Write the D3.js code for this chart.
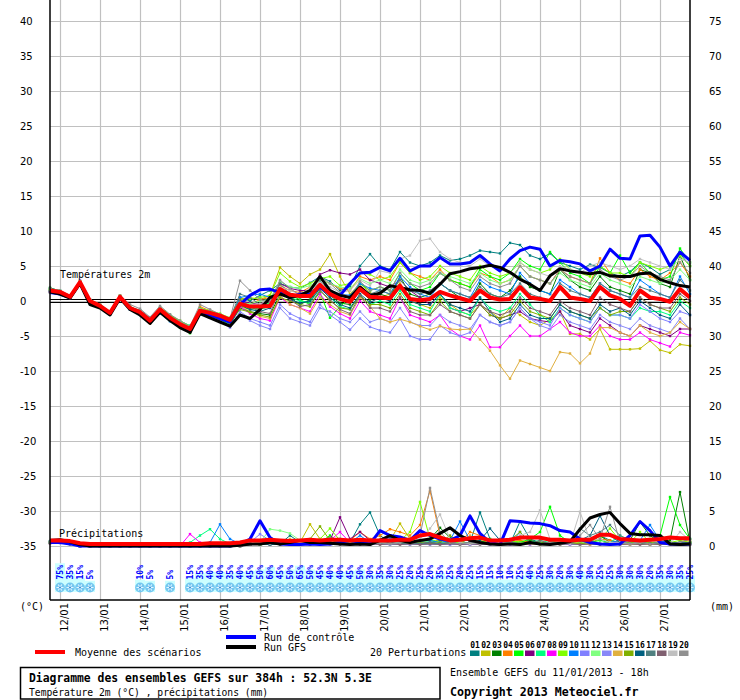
<!DOCTYPE html>
<html><head><meta charset="utf-8">
<script src="https://cdn.jsdelivr.net/npm/d3@7"></script>
<style>
body{margin:0;background:#fff;}
svg{display:block;}
text{font-family:"DejaVu Sans Mono",monospace;}
</style></head><body>
<svg id="c" width="740" height="700"></svg>
<script>
// ---------- DATA ----------
const dateLabels = ["12/01","13/01","14/01","15/01","16/01","17/01","18/01","19/01","20/01","21/01","22/01","23/01","24/01","25/01","26/01","27/01"];
const dateStep = [1,5,9,13,17,21,25,29,33,37,41,45,49,53,57,61];
const tempTicks = [40,35,30,25,20,15,10,5,0,-5,-10,-15,-20,-25,-30,-35];
const precipTicks = [75,70,65,60,55,50,45,40,35,30,25,20,15,10,5,0];
const snowPct = [null,75,35,15,5,null,null,null,null,10,5,null,5,null,15,35,40,40,35,40,45,50,60,45,50,65,50,45,40,40,45,50,30,35,30,25,20,25,20,35,25,20,25,15,15,10,10,25,40,25,30,20,30,40,30,25,25,30,30,30,20,35,30,35,25];
const pertNames = ["01","02","03","04","05","06","07","08","09","10","11","12","13","14","15","16","17","18","19","20"];
const pertColors = ["#008080","#c0c000","#008000","#ff8000","#00ff00","#800080","#00ff80","#ff00ff","#80ff00","#0080ff","#8080ff","#80ff80","#8888f8","#e0b040","#80b000","#006080","#508080","#806070","#c0c0c0","#909090"];

const meanTemp = [1.5,1.3,0.6,2.7,0.0,-0.7,-1.7,0.6,-1.0,-1.6,-2.8,-1.2,-2.4,-3.3,-4.0,-1.4,-1.7,-2.1,-2.7,-0.4,-0.8,-0.8,-0.7,1.7,0.9,0.7,0.7,2.3,1.0,0.3,-0.1,1.7,0.6,0.5,0.4,2.2,0.3,0.1,0.3,1.3,0.8,0.4,0.0,1.5,0.5,0.2,0.3,2.0,0.5,0.3,0.0,2.0,0.5,0.3,0.0,2.0,0.8,0.3,-0.7,1.5,0.5,0.3,-0.1,1.7,0.5];
const ctrlTemp = [1.2,1.0,0.5,2.6,-0.2,-0.8,-1.8,0.5,-1.0,-1.8,-3.0,-1.5,-2.6,-3.5,-4.2,-1.5,-2.0,-2.5,-3.0,
  -0.5,0.8,1.6,1.7,1.2,0.5,1.0,1.0,2.0,1.0,0.8,2.5,4.0,4.1,
  4.8,4.3,6.1,4.3,5.0,5.0,6.2,5.3,5.3,5.5,6.5,5.3,4.3,6.0,7.2,7.7,7.4,5.0,5.8,5.6,5.3,4.3,5.0,7.4,6.1,6.0,9.3,9.4,7.7,5.0,7.0,5.8];
const gfsTemp = [1.3,1.0,0.4,2.5,-0.5,-1.0,-2.0,0.4,-1.2,-2.0,-3.2,-1.6,-2.8,-3.8,-4.5,-1.8,-2.4,-3.0,-3.6,
  -2.0,-2.5,-1.2,0.5,1.0,0.5,0.8,1.5,3.5,1.5,0.8,0.5,2.0,0.8,
  1.1,2.2,1.9,1.6,1.5,1.1,2.4,3.9,4.2,4.6,4.8,5.1,4.8,4.1,3.1,2.4,1.5,3.6,4.6,4.3,4.1,3.9,4.1,3.6,3.5,3.5,3.9,4.0,3.1,2.6,2.2,2.0];

const pertTemp = [
 [1.8,1.5,0.7,2.6,0.2,-0.6,-1.5,0.7,-0.9,-1.4,-2.6,-1.0,-2.1,-3.0,-3.7,
  -1.2,-1.5,-2.0,-2.5,0.5,0.0,0.8,1.5,2.5,2.0,1.8,2.6,3.5,2.8,1.5,2.0,5.0,6.7,
  5.0,4.5,7.0,5.5,5.0,5.5,6.5,5.8,6.0,6.5,7.2,7.0,6.8,8.3,8.0,6.5,6.0,6.8,5.5,5.0,4.5,5.2,4.8,4.0,3.5,4.2,5.5,4.8,3.8,4.5,6.8,5.0],
 [1.2,1.1,0.5,2.8,-0.2,-0.9,-1.8,0.5,-1.1,-1.8,-3.0,-1.3,-2.5,-3.5,-4.3,
  -1.5,-1.9,-2.4,-3.0,0.3,0.5,0.2,0.8,4.8,3.5,2.5,3.8,4.5,6.7,3.5,1.0,2.5,1.2,
  0.5,1.0,2.5,0.0,-0.5,-1.0,0.5,-0.5,-1.5,-2.0,-0.5,-1.5,-2.5,-1.0,-2.0,-3.0,-3.5,-2.6,-1.5,-4.7,-4.7,-5.5,-4.0,-6.9,-6.9,-6.9,-6.8,-5.7,-7.0,-7.4,-6.2,-6.4],
 [1.9,1.4,0.6,2.5,-0.3,-0.8,-1.9,0.4,-1.2,-1.7,-3.1,-1.5,-2.7,-3.6,-4.5,
  -1.6,-2.0,-2.5,-3.3,-1.0,-1.5,-1.8,-2.0,1.0,0.5,-0.5,0.2,2.0,0.8,-0.3,-0.5,1.5,0.2,
  1.0,0.5,3.5,1.0,0.5,1.0,2.5,1.5,0.5,0.0,2.5,1.0,0.5,1.5,3.5,2.0,1.5,1.0,4.5,3.0,2.0,1.5,3.5,2.0,1.5,1.0,4.5,4.0,2.5,2.0,6.5,3.0],
 [1.4,1.2,0.8,2.7,0.1,-0.5,-1.6,0.8,-0.8,-1.5,-3.2,-1.1,-2.2,-3.1,-3.8,
  -0.8,-1.4,-2.0,-2.6,-0.2,-0.5,0.2,0.5,2.2,1.5,1.2,2.0,3.0,2.5,1.8,1.5,3.5,3.0,
  3.5,3.0,5.5,4.0,3.5,3.0,4.5,3.0,2.5,2.0,4.0,3.5,2.5,3.0,5.0,3.5,3.0,2.5,4.5,3.5,3.0,2.5,6.1,4.0,3.0,2.5,4.5,3.5,3.0,4.0,5.5,3.5],
 [1.6,1.3,0.5,2.6,-0.1,-0.7,-1.7,0.6,-1.1,-1.9,-2.9,-1.6,-2.8,-3.8,-4.6,
  -1.8,-2.2,-2.6,-3.5,-0.8,-1.2,-1.0,-0.2,2.0,0.8,0.2,-0.5,1.2,-2.4,-0.8,0.5,2.5,1.5,
  2.0,1.5,4.0,2.5,1.5,2.0,4.0,3.0,2.5,2.0,4.5,3.5,3.0,4.0,6.0,5.0,4.5,7.0,5.5,4.0,3.5,2.5,5.0,4.0,6.5,4.0,5.5,4.0,3.0,3.5,7.5,5.5],
 [1.3,1.2,0.6,2.9,0.0,-0.6,-1.6,0.7,-1.0,-1.5,-2.7,-1.2,-2.3,-3.2,-3.9,
  -1.3,-1.6,-2.0,-2.6,0.0,-0.3,-0.5,0.0,2.5,1.8,1.5,1.5,3.8,4.4,4.0,3.8,4.5,3.0,
  2.5,2.0,3.0,1.5,0.5,-0.5,1.0,-1.0,-1.5,-1.0,-0.5,-2.0,-2.5,-2.0,-1.5,-2.5,-2.8,-3.0,-1.5,-3.5,-4.0,-4.5,-2.5,-3.5,-4.5,-5.0,-3.5,-4.0,-4.5,-5.0,-4.0,-4.0],
 [1.7,1.4,0.7,2.6,0.1,-0.8,-1.8,0.5,-1.0,-1.6,-2.5,-1.0,-2.0,-2.9,-3.5,
  -1.4,-1.8,-2.3,-2.9,-0.5,-1.0,-1.2,-0.8,1.5,0.5,0.0,-0.2,1.8,0.5,-0.8,-1.2,0.8,-0.5,
  0.0,-0.5,1.5,-0.5,-1.0,-1.5,1.0,-1.0,-1.5,-2.0,0.5,-1.0,-1.5,-1.0,1.0,-0.5,-2.0,-3.0,-1.0,-2.0,-2.5,-3.0,-1.0,-2.0,-2.0,-2.5,-1.0,-1.5,-1.5,-2.0,0.0,-1.0],
 [1.5,1.3,0.6,2.7,-0.1,-0.7,-1.7,0.6,-1.1,-1.7,-2.8,-1.3,-2.4,-3.4,-4.1,
  -1.5,-1.9,-2.3,-2.8,-0.8,-1.8,-2.5,-2.8,0.5,-0.5,-1.0,-1.5,1.0,-0.8,-1.8,-2.5,0.0,-1.5,
  -2.0,-2.5,0.5,-2.0,-2.5,-3.0,-2.0,-4.0,-5.0,-5.5,-3.5,-6.6,-6.6,-5.0,-3.5,-5.0,-5.0,-4.0,-3.0,-4.5,-5.0,-5.0,-3.5,-5.0,-5.5,-5.5,-4.5,-5.5,-6.0,-6.5,-4.5,-4.9],
 [1.6,1.4,0.8,2.8,0.1,-0.6,-1.5,0.8,-0.8,-1.4,-2.6,-0.9,-2.0,-2.8,-3.6,
  -1.0,-1.4,-1.8,-2.4,0.2,0.3,0.5,0.8,4.0,2.8,2.0,2.5,3.2,3.5,2.2,2.5,4.0,3.8,
  3.0,3.5,5.5,4.0,3.0,3.5,5.0,4.0,3.5,3.0,5.0,4.0,3.5,4.0,5.5,4.5,4.0,4.5,6.0,4.5,4.0,3.5,5.0,4.0,4.0,3.5,5.5,5.0,4.5,5.0,6.5,5.0],
 [1.4,1.1,0.5,2.6,-0.1,-0.8,-1.8,0.6,-1.2,-2.0,-3.1,-1.8,-2.9,-3.7,-4.4,
  -1.7,-2.1,-2.6,-3.2,0.5,0.8,1.0,0.5,1.5,1.0,0.8,1.2,2.2,1.5,1.0,0.8,2.5,1.8,
  1.5,1.0,3.5,2.0,1.0,0.5,2.5,1.5,1.0,0.5,3.0,2.0,1.5,1.0,4.0,2.5,1.5,1.0,3.0,2.0,1.0,0.5,2.5,1.5,1.0,0.5,3.0,2.0,1.0,0.5,3.5,1.0],
 [1.3,1.2,0.4,2.5,0.0,-0.7,-1.6,0.5,-0.9,-1.6,-2.9,-1.4,-2.6,-3.5,-4.2,
  -1.8,-2.3,-2.8,-3.6,-1.5,-2.5,-3.0,-3.5,-0.5,-1.8,-2.5,-3.0,-0.5,-2.0,-3.0,-4.1,-2.5,-3.7,
  -4.2,-4.5,-2.5,-5.0,-5.5,-5.5,-3.5,-4.5,-5.0,-4.5,-2.0,-3.0,-3.5,-3.0,-1.0,-2.5,-3.0,-3.5,-1.0,-2.0,-2.5,-3.0,-1.0,-2.0,-2.0,-2.5,-0.5,-1.5,-2.5,-3.0,-1.5,-2.0],
 [1.7,1.5,0.7,2.7,0.2,-0.5,-1.5,0.7,-0.9,-1.5,-2.7,-1.1,-2.2,-3.0,-3.8,
  -1.2,-1.5,-1.9,-2.4,-0.2,-0.4,0.0,0.3,2.8,2.0,1.8,2.2,3.0,2.5,2.0,1.8,3.2,2.5,
  3.0,2.5,4.5,3.0,2.5,3.0,4.0,3.5,3.0,2.5,4.0,3.0,2.5,3.0,5.0,3.5,3.0,2.5,4.0,3.0,2.5,2.0,4.0,3.0,2.5,2.0,3.5,3.0,2.5,3.0,4.5,3.0],
 [1.2,1.0,0.5,2.6,-0.2,-0.8,-1.9,0.4,-1.2,-1.9,-3.0,-1.5,-2.7,-3.6,-4.3,
  -1.9,-2.4,-3.0,-3.8,-1.8,-2.8,-3.5,-4.0,-1.0,-2.5,-3.0,-3.5,-1.0,-1.5,-2.5,-3.0,-1.5,-3.0,
  -2.5,-3.0,-1.0,-3.0,-3.5,-3.5,-2.0,-3.0,-3.5,-4.0,-2.0,-3.0,-3.5,-3.0,-1.0,-2.5,-3.5,-4.0,-2.0,-3.0,-3.5,-4.0,-2.0,-3.0,-3.5,-4.0,-2.5,-3.5,-4.0,-4.5,-2.5,-4.0],
 [1.5,1.3,0.6,2.8,0.0,-0.6,-1.7,0.7,-1.0,-1.5,-3.0,-1.2,-2.3,-3.2,-4.0,
  -1.3,-1.8,-2.2,-2.8,-0.6,-1.5,-2.2,-2.5,0.8,-0.5,-1.0,-1.8,0.5,-0.5,-1.5,-2.0,0.5,-0.8,
  -2.5,-3.0,-2.6,-3.0,-3.6,-4.1,-3.6,-4.0,-4.1,-4.0,-5.5,-7.1,-9.2,-11.1,-8.5,-9.0,-9.5,-10.0,-7.3,-7.5,-8.9,-7.5,-3.8,-3.8,-4.5,-5.0,-3.5,-4.5,-5.0,-4.5,-3.0,-4.0],
 [1.6,1.3,0.6,2.7,-0.1,-0.7,-1.8,0.5,-1.1,-1.8,-2.8,-1.4,-2.5,-3.4,-4.2,
  -1.5,-1.9,-2.4,-3.1,-1.2,-1.6,-2.0,-2.3,0.5,0.0,-0.5,-0.8,1.5,0.0,-1.0,-1.2,0.8,-0.5,
  -0.5,-1.0,1.0,-1.0,-1.5,-2.0,0.0,-1.5,-2.0,-2.5,-0.5,-2.0,-2.5,-2.0,0.0,-1.5,-2.0,-2.5,-0.5,-1.5,-2.0,-2.5,-1.0,-2.0,-1.5,-1.5,0.5,-0.5,-1.0,-1.5,0.5,-0.5],
 [1.4,1.2,0.7,2.7,0.0,-0.6,-1.6,0.6,-1.0,-1.6,-2.7,-1.3,-2.4,-3.3,-4.1,
  -1.6,-2.0,-2.5,-3.0,-0.6,-1.2,-1.5,-1.0,1.2,0.2,-0.3,0.0,1.8,0.5,-0.5,-1.0,1.0,-0.2,
  0.5,0.0,2.0,0.0,-0.5,-0.5,1.0,-0.5,-1.0,-1.5,0.5,-1.5,-3.0,-2.5,-0.5,-2.0,-2.5,-2.5,-0.5,-1.5,-2.0,-2.5,-0.5,-1.5,-1.0,-2.0,0.0,-1.0,-2.0,-2.5,-0.5,-2.0],
 [1.5,1.4,0.6,2.6,0.1,-0.7,-1.7,0.6,-0.9,-1.3,-2.4,-1.0,-2.2,-3.1,-3.9,
  -1.1,-1.5,-2.0,-2.5,1.0,0.5,-0.5,-0.5,2.5,1.0,0.5,1.0,2.8,1.5,0.5,0.0,2.0,1.0,
  1.5,1.0,3.0,1.5,1.0,1.5,2.5,1.5,1.0,0.5,2.0,1.0,0.5,1.0,2.5,1.0,0.5,0.0,2.5,1.5,1.0,0.5,2.5,1.5,1.0,0.5,2.0,1.5,1.0,0.5,3.0,1.5],
 [1.3,1.1,0.5,2.7,-0.1,-0.8,-1.8,0.5,-1.1,-1.8,-2.9,-1.3,-2.5,-3.4,-4.4,
  -1.4,-1.8,-2.4,-3.1,0.2,-0.8,-1.5,-1.8,1.8,0.2,-0.8,-0.5,1.5,0.2,-1.2,-1.8,0.8,-1.0,
  -1.0,-1.5,0.5,-1.5,-2.0,-2.0,-0.5,-1.5,-2.0,-2.5,-0.5,-1.5,-2.0,-1.5,0.5,-1.0,-1.5,-2.0,0.0,-1.0,-1.5,-2.0,0.5,-0.5,-1.0,-1.5,0.5,-0.5,-1.0,-1.0,1.0,0.0],
 [1.6,1.4,0.7,2.8,0.1,-0.6,-1.6,0.7,-0.9,-1.5,-2.7,-1.1,-2.3,-3.2,-3.9,
  -1.2,-1.6,-2.1,-2.7,-0.3,-0.6,-0.4,0.2,2.0,1.5,1.0,1.8,2.6,2.0,1.2,1.5,3.0,2.2,
  4.3,4.0,6.0,6.5,8.6,8.9,7.0,6.0,5.5,5.0,6.0,5.0,4.5,4.0,5.5,4.5,4.0,3.5,5.0,4.5,4.0,5.0,5.5,5.0,4.5,5.0,6.0,5.5,5.0,4.5,6.0,5.5],
 [1.8,1.5,0.8,2.7,0.2,-0.5,-1.5,0.8,-0.5,-1.1,-2.3,-0.7,-1.9,-2.8,-3.6,
  -0.5,-1.2,-1.9,-2.5,2.9,1.5,0.2,-0.2,3.0,1.8,0.8,1.2,3.5,2.5,1.2,0.5,2.8,1.5,
  2.0,1.5,4.0,2.5,2.0,2.5,4.0,3.0,2.0,1.5,3.5,2.5,2.0,2.5,5.0,3.5,3.0,2.5,4.5,3.5,3.0,2.5,4.5,3.5,3.0,3.5,5.0,4.0,3.5,3.0,5.5,4.0]
];

const meanPrecip = [0.8,0.8,0.7,0.4,0.3, 0.3,0.3,0.3,0.3,0.3, 0.3,0.3,0.3,0.3,0.3, 0.3,0.4,0.4,0.4,0.5, 0.8,0.8,0.9,0.8,0.7, 0.8,0.9,0.8,0.9,0.9, 0.8,0.9,0.8,0.8,0.8, 0.9,0.9,1.5,1.7,1.2, 0.8,0.9,1.1,1.2,0.8, 0.8,0.9,1.2,1.2,1.2, 0.9,0.9,0.8,0.9,0.9, 1.6,1.6,1.0,0.9,0.8, 0.9,1.0,1.2,1.1,1.1];
const ctrlPrecip = [0.5,0.5,0.3,0,0, 0,0,0,0,0, 0,0,0,0,0, 0,0,0,0,0.2, 1.0,3.6,1.2,0.3,0.2, 0.2,0.3,0.2,0.3,0.5, 0.8,0.5,0.3,2.2,1.5, 1.3,0.8,2.2,1.5,1.0, 0.8,1.5,4.3,1.8,0.5, 0.2,3.6,3.5,3.3,3.2, 2.9,2.2,2.0,1.0,0.5, 0.3,0.2,0.3,1.5,3.5, 2.2,0.5,0.3,0.2,0.3];
const gfsPrecip = [0.8,0.9,0.6,0.2,0, 0,0,0,0,0, 0,0,0,0,0, 0,0,0,0,0.1, 0.3,0.3,0.5,0.3,0.5, 0.8,0.5,0.5,0.4,0.3, 0.2,0.3,0.2,0.8,1.5, 0.8,0.5,0.8,1.0,1.8, 2.6,1.5,0.8,0.5,0.3, 0.2,0.3,0.2,0.5,0.3, 0.2,0.4,0.6,2.4,4.0, 4.5,4.8,3.2,1.8,1.6, 1.6,1.5,0.3,0.2,0.3];
const pertPrecip = [
 [0.6,0.5,0.3,0,0, 0,0,0,0,0, 0,0,0,0,0, 0,0.2,0.3,0.2,0, 0.2,0.3,0.5,0.3,1.5, 0.5,0.3,0.5,0.3,1.0, 0.5,3.1,4.8,1.5,0.5, 0.8,0.5,0.3,0.5,0.8, 0.5,0.3,0.5,4.8,1.0, 0.5,0.3,3.5,1.0,0.5, 0.3,0.5,0.3,0.5,0.8, 1.5,0.8,0.5,0.3,0.5, 0.3,0.5,0.3,0.5,1.0],
 [0.4,0.5,0.3,0,0, 0,0,0,0,0, 0,0,0,0,0, 0,0,0.2,0,0, 0.3,0.2,0.3,0.5,0.8, 0.5,3.1,1.0,0.5,0.3, 0.5,0.8,0.5,0.3,0.8, 3.2,1.0,0.5,0.3,1.0, 0.5,0.3,0.5,0.8,0.5, 0.3,0.5,0.8,0.5,0.3, 0.5,0.3,0.5,1.0,0.5, 1.5,0.5,0.3,0.5,0.3, 0.5,0.3,0.5,0.3,0.5],
 [0.7,0.6,0.4,0,0, 0,0,0,0,0, 0,0,0,0,0, 0,0,0,0.2,0.3, 0.2,0.3,0.2,0.3,0.5, 0.3,0.5,0.8,1.2,0.5, 0.3,0.5,0.3,0.8,0.5, 0.3,0.5,0.8,1.0,2.6, 1.2,0.5,1.0,0.5,0.3, 0.5,0.3,0.5,0.8,0.5, 0.5,0.3,0.5,0.3,0.5, 1.5,0.5,0.3,0.8,3.4, 1.5,0.5,0.8,7.7,0.5],
 [0.5,0.6,0.3,0,0, 0,0,0,0,0, 0,0,0,0,0, 0,0,0.2,0.3,0.2, 0.3,0.2,0.5,0.8,0.5, 0.5,0.3,0.8,0.5,0.5, 0.8,2.0,1.0,1.5,2.4, 2.0,1.5,3.0,7.9,1.5, 0.8,0.5,2.0,1.5,0.5, 0.3,0.5,0.8,0.5,0.3, 0.5,0.8,0.5,0.3,0.5, 1.0,0.8,0.5,1.0,0.5, 0.8,0.5,0.3,0.5,0.8],
 [0.5,0.6,0.4,0,0, 0,0,0,0,0, 0,0,0,0,0, 0,0.3,0.2,0,0.2, 0.3,0.2,0.3,0.5,0.3, 0.5,0.3,0.5,1.5,0.5, 0.3,0.5,0.8,0.5,0.3, 0.5,0.3,0.5,0.8,0.5, 0.3,0.5,0.3,0.5,1.0, 0.5,0.8,0.5,1.0,2.0, 5.6,1.5,0.5,0.3,0.5, 0.8,0.5,0.3,0.5,0.8, 1.0,1.5,7.0,3.0,1.0],
 [0.6,0.5,0.3,0,0, 0,0,0,0,0, 0,0,0,0,0, 0,0,0,0,0, 0.2,0.3,0.2,0.3,0.5, 0.3,0.5,0.3,0.8,4.1, 1.0,2.0,0.8,0.5,0.3, 0.5,0.8,0.3,0.5,0.3, 0.5,0.3,0.5,0.3,0.5, 0.3,0.5,0.3,0.5,0.3, 0.5,0.3,0.5,0.3,0.5, 0.3,0.5,0.3,0.5,0.3, 0.5,0.3,0.5,0.3,0.5],
 [0.5,0.5,0.4,0,0, 0,0,0,0,0, 0,0,0,0,0.5, 1.5,2.4,1.0,0.3,0.2, 0.3,0.2,0.3,0.5,0.3, 0.5,0.3,0.5,0.3,0.5, 0.3,0.5,0.3,0.5,0.3, 0.5,0.3,0.8,0.5,0.3, 0.5,0.3,0.5,0.3,0.5, 0.3,0.5,0.3,0.5,0.8, 0.5,1.0,0.5,0.3,0.5, 0.3,0.5,1.5,0.8,0.5, 0.3,0.5,0.3,0.5,0.3],
 [0.4,0.5,0.3,0,0, 0,0,0,0,0, 0,0,0,0,1.7, 0.5,0.2,0,0,0, 0.2,0.3,0.2,0.3,0.2, 0.3,0.5,0.3,0.8,2.0, 0.5,0.3,0.5,0.3,0.5, 0.3,0.5,0.3,0.5,0.3, 0.5,0.3,0.2,0.3,0.2, 0.3,0.2,0.3,0.2,0.3, 0.2,0.3,0.2,0.3,0.2, 0.3,0.2,0.3,0.2,0.3, 0.2,0.3,0.2,0.3,0.2],
 [0.5,0.6,0.3,0,0, 0,0,0,0,0, 0,0,0,0,0, 0,0,0.2,0.3,0.2, 0.3,0.5,0.3,0.5,0.3, 0.5,0.8,1.0,2.5,0.8, 0.5,0.3,0.5,0.3,0.5, 0.8,2.0,6.3,1.0,0.5, 0.3,0.5,0.3,0.5,0.3, 0.5,0.8,0.5,0.3,0.5, 0.3,0.5,0.3,0.5,0.8, 1.0,2.5,0.8,0.5,2.0, 0.5,0.3,0.5,0.8,0.5],
 [0.6,0.5,0.3,0,0, 0,0,0,0,0, 0,0,0,0,0, 0,0.5,3.1,1.0,0.3, 0.2,0.3,0.2,0.3,0.5, 0.3,0.5,0.3,0.5,0.3, 0.5,1.5,0.5,0.8,1.2, 0.5,0.3,0.5,0.8,0.5, 0.8,3.5,0.8,0.5,0.3, 0.5,0.3,2.0,0.5,0.3, 0.5,0.3,0.5,0.8,0.5, 0.3,0.5,0.8,0.5,0.8, 3.0,0.8,0.5,0.3,0.5],
 [0.5,0.4,0.3,0,0, 0,0,0,0,0, 0,0,0,0,0, 0,0,0,0,0.3, 0.5,1.7,0.8,0.3,0.2, 0.3,0.2,0.3,0.2,0.3, 0.5,0.3,0.2,0.3,0.2, 0.3,0.2,0.3,0.2,0.3, 0.2,0.3,0.2,0.3,0.2, 0.3,0.2,0.3,0.2,0.3, 0.2,0.3,0.2,0.3,0.2, 0.3,0.2,0.3,0.2,0.3, 0.2,0.3,0.2,0.3,0.2],
 [0.5,0.6,0.4,0,0, 0,0,0,0,0, 0,0,0,0,0, 0,0,0,0,0.2, 0.3,0.5,2.4,2.2,1.8, 0.8,0.5,0.3,0.5,0.3, 0.5,0.3,0.5,0.3,0.5, 0.3,0.5,0.8,0.5,0.3, 0.5,0.3,0.5,0.3,0.5, 0.3,0.5,0.3,0.5,0.3, 0.5,0.3,0.5,0.3,0.5, 0.3,0.5,0.3,0.5,0.3, 0.5,0.3,0.5,0.3,0.5],
 [0.4,0.5,0.3,0,0, 0,0,0,0,0, 0,0,0,0,0, 0,0,0,0,0, 0.2,0.3,0.2,0.3,0.2, 0.3,0.2,0.3,0.2,0.3, 0.2,0.3,0.2,0.3,0.2, 0.3,0.2,0.3,0.2,0.3, 0.2,0.3,0.2,0.3,0.2, 0.5,0.3,0.2,0.3,0.2, 0.3,0.2,0.3,0.2,0.3, 0.2,0.3,0.2,0.8,0.3, 0.2,0.3,0.2,0.3,0.2],
 [0.5,0.5,0.3,0,0, 0,0,0,0,0, 0,0,0,0,0, 0,0,0,0,0, 0.2,0.3,0.2,0.5,1.0, 0.5,0.3,0.5,0.3,0.5, 0.3,0.5,0.3,1.0,0.5, 0.3,0.5,0.3,0.5,0.3, 0.5,0.3,1.5,0.5,0.3, 0.2,0.3,0.2,0.3,0.2, 0.3,0.2,0.8,0.3,0.2, 0.3,0.2,0.3,0.2,0.3, 0.2,0.3,0.2,0.3,0.2],
 [0.5,0.6,0.4,0,0, 0,0,0,0,0, 0,0,0,0,0, 0,0,0,0,0, 0.3,0.2,0.3,0.2,0.5, 0.8,1.0,2.8,0.8,0.5, 0.3,0.5,0.3,0.5,0.3, 0.5,0.3,0.5,0.3,0.5, 1.5,0.5,0.3,0.5,0.3, 0.5,0.8,2.0,0.5,0.3, 0.5,0.3,0.5,0.3,0.5, 0.3,0.5,0.3,0.5,0.3, 0.5,0.3,0.5,0.3,0.5],
 [0.5,0.5,0.3,0,0, 0,0,0,0,0, 0,0,0,0,0, 0,0,0,0,0, 0.2,0.3,0.2,0.3,0.2, 0.3,0.5,0.3,0.5,0.3, 0.5,0.3,0.5,0.3,0.5, 0.3,0.5,0.3,0.5,0.3, 0.5,0.3,0.5,0.8,2.5, 0.8,0.5,0.3,0.5,0.3, 0.5,0.3,0.5,0.8,1.5, 4.3,1.5,0.5,0.3,0.5, 0.3,0.5,0.3,0.5,0.3],
 [0.5,0.5,0.4,0,0, 0,0,0,0,0, 0,0,0,0,0, 0,0,0,0,0, 0.3,0.2,0.5,0.8,0.5, 0.3,0.5,0.8,0.5,0.3, 0.5,0.3,0.5,0.3,0.5, 0.3,0.5,0.3,0.5,0.3, 0.5,0.3,0.5,0.3,0.5, 0.3,0.5,0.3,0.5,0.3, 0.5,0.3,0.5,2.5,1.5, 2.0,3.0,1.5,0.8,0.5, 0.3,0.5,0.3,0.5,0.3],
 [0.4,0.5,0.3,0,0, 0,0,0,0,0, 0,0,0,0,0, 0,0,0,0,0, 0.2,0.3,0.5,0.3,0.2, 0.3,0.2,0.5,0.3,0.2, 0.3,0.2,0.3,0.2,0.3, 0.2,0.3,0.2,0.3,0.2, 0.3,0.2,0.3,0.2,0.3, 1.0,0.3,0.2,0.3,0.8, 0.3,0.2,0.3,0.2,0.3, 0.2,0.3,0.2,0.3,0.2, 0.3,0.2,0.3,0.2,0.3],
 [0.6,0.6,0.4,0,0, 0,0,0,0,0, 0,0,0,0,0, 0,0,0,0,0, 0.3,0.5,0.3,0.5,0.3, 0.5,0.3,0.5,0.3,0.5, 0.3,0.5,0.3,0.5,0.3, 0.5,0.8,1.0,2.5,4.5, 1.0,0.5,0.3,0.5,0.3, 0.5,0.8,1.5,2.0,5.1, 1.0,0.5,0.3,4.9,0.8, 1.0,0.5,0.5,0.3,0.5, 0.8,0.5,0.3,2.0,0.8],
 [0.5,0.6,0.3,0,0, 0,0,0,0,0, 0,0,0,0,0, 0.3,0.2,0,0,0, 0.2,0.3,0.5,0.3,0.5, 0.3,0.5,0.3,1.2,0.5, 0.3,0.5,0.3,0.5,0.3, 0.5,0.8,1.5,8.3,2.0, 0.5,0.3,0.5,0.3,0.5, 0.3,0.5,0.3,0.5,0.3, 0.5,0.3,0.5,1.5,3.0, 1.0,5.6,0.5,0.3,0.5, 0.3,0.5,0.3,0.5,1.0]
];

// ---------- DRAW ----------
const svg = d3.select("#c");
const L = 50, R = 690, T = 0, B = 600;
const x = d3.scaleLinear().domain([0, 64]).range([L, R]);
const yT = d3.scaleLinear().domain([-35, 40]).range([546, 21]);
const yP = d3.scaleLinear().domain([0, 75]).range([546, 21]);
const idx = d3.range(65);

// horizontal grid + left labels
const gLeft = svg.append("g").attr("transform", `translate(${L},0)`)
  .call(d3.axisLeft(yT).tickValues(tempTicks).tickSize(-(R - L)).tickFormat(d => d));
gLeft.select(".domain").remove();
gLeft.selectAll(".tick line").attr("stroke", "#c0c0c0").attr("stroke-width", 1.2);
gLeft.selectAll(".tick text").attr("x", -30).attr("dy", "0.38em").attr("text-anchor", "start")
  .style("font-family", "'DejaVu Sans',sans-serif").style("font-size", "10px").attr("fill", "#000");

// vertical grid (days)
const gDays = svg.append("g").attr("transform", `translate(0,${B})`)
  .call(d3.axisBottom(x).tickValues(dateStep).tickSize(-(B - T)).tickFormat((d, i) => dateLabels[i]));
gDays.select(".domain").remove();
gDays.selectAll(".tick line").attr("stroke", "#c0c0c0").attr("stroke-width", 1.2);
gDays.selectAll(".tick text")
  .attr("transform", "rotate(-90)").attr("x", -3).attr("y", 7).attr("dy", "0").attr("text-anchor", "end")
  .style("font-family", "'DejaVu Sans',sans-serif").style("font-size", "10px").attr("fill", "#000");

// right axis labels
svg.append("g").selectAll("text").data(precipTicks).join("text")
  .attr("x", 709).attr("y", d => yP(d)).attr("dy", "0.38em")
  .style("font-family", "'DejaVu Sans',sans-serif").style("font-size", "10px").text(d => d);

// snow probability: cyan bars, icons, labels
const snowIdx = idx.filter(i => snowPct[i] != null);
svg.append("g").selectAll("rect").data(snowIdx).join("rect")
  .attr("x", i => x(i) - 5).attr("width", 10)
  .attr("y", i => 582 - snowPct[i] * 0.25).attr("height", i => 592 - (582 - snowPct[i] * 0.25))
  .attr("fill", "#ccffff");
const flakes = svg.append("g").selectAll("g").data(snowIdx).join("g")
  .attr("transform", i => `translate(${x(i)},587.5)`);
flakes.append("circle").attr("r", 4.9).attr("fill", "#74c8f0");
[0, 60, 120].forEach(a => {
  flakes.append("line").attr("x1", -3.5).attr("x2", 3.5).attr("y1", 0).attr("y2", 0)
    .attr("transform", `rotate(${a})`).attr("stroke", "#e6f6ff").attr("stroke-width", 1);
});
flakes.append("circle").attr("r", 1).attr("fill", "#2c8ad8");
svg.append("g").selectAll("text").data(snowIdx).join("text")
  .attr("transform", i => `translate(${x(i) + 2.8},579.5) rotate(-90)`)
  .attr("text-anchor", "start").style("font-size", "8px").style("font-weight", "bold")
  .attr("fill", "#0000ff").text(i => snowPct[i] + "%");

// zero-degree double line
[-1.5, 1.5].forEach(o => {
  svg.append("line").attr("x1", L).attr("x2", R).attr("y1", yT(0) + o).attr("y2", yT(0) + o)
    .attr("stroke", "#000").attr("stroke-width", 1);
});

// lines
const lineT = d3.line().x((d, i) => x(i)).y(d => yT(d));
const lineP = d3.line().x((d, i) => x(i)).y(d => yP(d));
const gData = svg.append("g");
function drawPert(arr, ys, lineGen) {
  arr.forEach((s, k) => {
    gData.append("path").datum(s).attr("d", lineGen).attr("fill", "none")
      .attr("stroke", pertColors[k]).attr("stroke-width", 1);
    gData.append("g").selectAll("rect").data(s).join("rect")
      .attr("x", (d, i) => x(i) - 1.2).attr("y", d => ys(d) - 1.2).attr("width", 2.4).attr("height", 2.4)
      .attr("fill", pertColors[k]);
  });
}
drawPert(pertTemp, yT, lineT);
drawPert(pertPrecip, yP, lineP);
function drawMain(s, lineGen, color, w) {
  gData.append("path").datum(s).attr("d", lineGen).attr("fill", "none")
    .attr("stroke", color).attr("stroke-width", w).attr("stroke-linejoin", "round");
}
drawMain(ctrlTemp, lineT, "#0000ff", 3);
drawMain(ctrlPrecip, lineP, "#0000ff", 3);
drawMain(gfsTemp, lineT, "#000000", 3);
drawMain(gfsPrecip, lineP, "#000000", 3);
drawMain(meanTemp, lineT, "#ff0000", 4);
drawMain(meanPrecip, lineP, "#ff0000", 4);

// frame lines
svg.append("line").attr("x1", L).attr("x2", L).attr("y1", T).attr("y2", B).attr("stroke", "#000").attr("stroke-width", 1.5);
svg.append("line").attr("x1", R).attr("x2", R).attr("y1", T).attr("y2", B).attr("stroke", "#000").attr("stroke-width", 1.5);
svg.append("line").attr("x1", L).attr("x2", R).attr("y1", B).attr("y2", B).attr("stroke", "#000").attr("stroke-width", 1.5);

// in-plot labels
svg.append("text").attr("x", 60).attr("y", 277.5).style("font-size", "10px").text("Températures 2m");
svg.append("text").attr("x", 59).attr("y", 537).style("font-size", "10px").text("Précipitations");
svg.append("text").attr("x", 20).attr("y", 610).style("font-size", "10px").text("(°C)");
svg.append("text").attr("x", 710).attr("y", 610).style("font-size", "10px").text("(mm)");

// legend
svg.append("line").attr("x1", 35).attr("x2", 65).attr("y1", 652).attr("y2", 652).attr("stroke", "#ff0000").attr("stroke-width", 4);
svg.append("text").attr("x", 75).attr("y", 655.5).style("font-size", "10px").text("Moyenne des scénarios");
svg.append("line").attr("x1", 226).attr("x2", 256).attr("y1", 637).attr("y2", 637).attr("stroke", "#0000ff").attr("stroke-width", 4);
svg.append("text").attr("x", 264).attr("y", 641).style("font-size", "10px").text("Run de contrôle");
svg.append("line").attr("x1", 226).attr("x2", 256).attr("y1", 647).attr("y2", 647).attr("stroke", "#000").attr("stroke-width", 4);
svg.append("text").attr("x", 264).attr("y", 651).style("font-size", "10px").text("Run GFS");
svg.append("text").attr("x", 370).attr("y", 655.5).style("font-size", "10px").text("20 Perturbations");
const sw = svg.append("g").selectAll("g").data(pertNames).join("g")
  .attr("transform", (d, i) => `translate(${470 + i * 11},0)`);
sw.append("rect").attr("x", 0).attr("y", 650.5).attr("width", 9.5).attr("height", 5.5).attr("fill", (d, i) => pertColors[i]);
sw.append("text").attr("x", 5).attr("y", 647.5).attr("text-anchor", "middle")
  .style("font-size", "8px").style("font-weight", "bold").text(d => d);

// title box
svg.append("rect").attr("x", 20.5).attr("y", 667.5).attr("width", 419.5).attr("height", 31.5)
  .attr("fill", "none").attr("stroke", "#000").attr("stroke-width", 1.5);
svg.append("text").attr("x", 29).attr("y", 681.5).style("font-size", "11.4px").style("font-weight", "bold")
  .text("Diagramme des ensembles GEFS sur 384h : 52.3N 5.3E");
svg.append("text").attr("x", 29).attr("y", 695.5).style("font-size", "9.7px")
  .text("Température 2m (°C) , précipitations (mm)");
svg.append("text").attr("x", 450).attr("y", 676).style("font-size", "10px")
  .text("Ensemble GEFS du 11/01/2013 - 18h");
svg.append("text").attr("x", 450).attr("y", 695.5).style("font-size", "11.6px").style("font-weight", "bold")
  .text("Copyright 2013 Meteociel.fr");
</script>
</body></html>
